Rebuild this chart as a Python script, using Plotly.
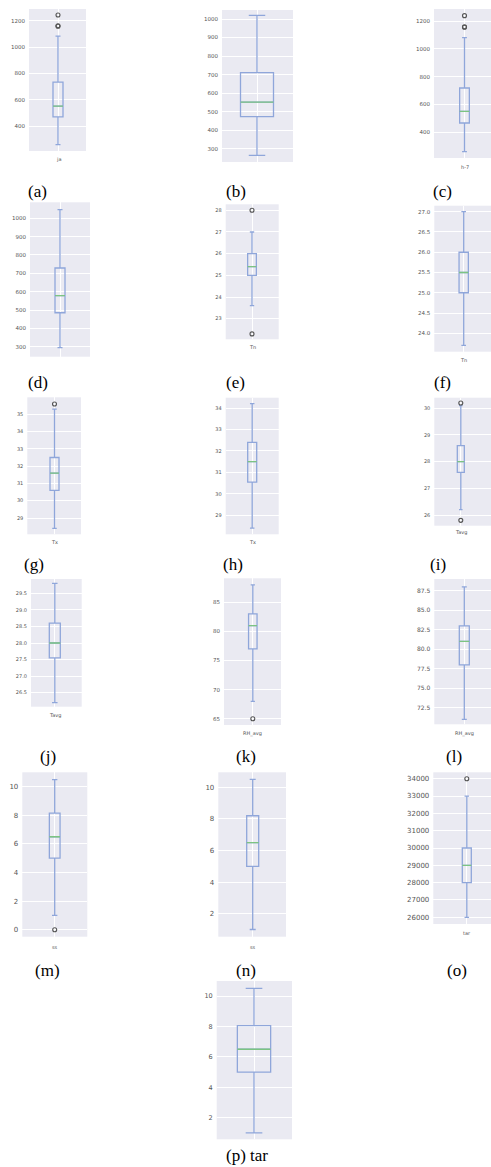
import plotly.graph_objects as go

W, H = 491, 1167

# ---------------- data ----------------
panel_ids = ["a", "b", "c", "d", "e", "f", "g", "h", "i", "j", "k", "l", "m", "n", "o", "p"]
var_names = ["ja", "", "h-7", "", "Tn", "Tn", "Tx", "Tx", "Tavg", "Tavg",
             "RH_avg", "RH_avg", "ss", "ss", "tar", ""]
lower_whisker = [261, 264, 258, 295, 23.6, 23.7, 28.4, 28.4, 26.2, 26.2,
                 68, 71, 1.0, 1.0, 26000, 1.0]
q1_vals = [472, 473, 465, 485, 25.0, 25.0, 30.6, 30.55, 27.6, 27.55,
           77, 78, 5.0, 5.0, 28000, 5.0]
median_vals = [553, 551, 549, 578, 25.4, 25.5, 31.6, 31.5, 28.0, 28.0,
               81, 81, 6.5, 6.5, 29000, 6.5]
q3_vals = [735, 711, 718, 729, 26.0, 26.0, 32.5, 32.4, 28.6, 28.6,
           83, 83, 8.15, 8.2, 30000, 8.05]
upper_whisker = [1083, 1020, 1082, 1047, 27.0, 27.0, 35.3, 34.2, 30.1, 29.8,
                 88, 88, 10.5, 10.5, 33000, 10.5]
outlier_vals = [[1158, 1162, 1243], [], [1157, 1160, 1241], [], [22.3, 28.0], [],
                [35.6], [], [25.8, 30.2], [], [65], [], [0], [], [34000], []]
captions = ["(a)", "(b)", "(c)", "(d)", "(e)", "(f)", "(g)", "(h)", "(i)",
            "(j)", "(k)", "(l)", "(m)", "(n)", "(o)", "(p) tar"]

# ---------------- layout (pixel geometry of each panel) ----------------
# x0, x1, y0, y1 (panel), box centre x, box width px
geom = [
    (29, 86, 9, 151, 58, 10),
    (222, 293, 10, 162, 257, 33),
    (434, 491, 9, 158, 464.5, 9.7),
    (30, 90, 202.3, 356.7, 60, 10),
    (225.7, 278.7, 204.3, 339.3, 252, 8.7),
    (434.3, 491, 205.7, 351.7, 463.7, 9.3),
    (27.3, 81, 397.3, 534.3, 54.5, 9),
    (225.7, 278.7, 397.7, 534.3, 252.2, 9),
    (434.3, 491, 397.7, 525.7, 460.8, 7),
    (31, 81.7, 579, 706.7, 54.8, 11),
    (224, 281, 578.3, 725, 252.8, 8.5),
    (434.3, 491, 579, 724.3, 464.3, 10),
    (22.3, 87.3, 772.3, 936.7, 54.7, 10.7),
    (218.3, 286, 772.3, 936.7, 252.7, 12),
    (433.3, 491, 772.3, 924, 466.8, 9),
    (216.7, 292, 981, 1139.3, 254, 33.3),
]
# axis calibration: (value1, pixel1, value2, pixel2)
calib = [
    (1200, 20.7, 400, 126.3),
    (1000, 19, 300, 148.7),
    (1200, 21.3, 400, 132),
    (1000, 218.3, 300, 346.7),
    (28, 210.3, 23, 318.7),
    (27, 211.7, 24, 333.3),
    (35, 414.3, 29, 518),
    (34, 408, 29, 515.3),
    (30, 408.3, 26, 515),
    (29.5, 593.3, 26.5, 692.7),
    (85, 602.3, 65, 718.8),
    (87.5, 590.7, 72.5, 707.7),
    (10, 786.7, 0, 929.7),
    (10, 787.3, 2, 913.7),
    (34000, 778.7, 26000, 917.3),
    (10, 996, 2, 1117.7),
]
dticks = [200, 100, 200, 100, 1, 0.5, 1, 1, 1, 0.5, 5, 2.5, 2, 2, 1000, 2]
tickfmts = ["d", "d", "d", "d", "d", ".1f", "d", "d", "d", ".1f", "d", ".1f", "d", "d", "d", "d"]
tick_sizes = [5.5, 5.5, 5.5, 5.5, 5, 5.5, 5, 5, 5, 5, 5.5, 6, 7, 7, 7, 6.5]
label_y = [159, None, 166.7, None, 347.3, 360, 542.3, 541.7, 532.7, 715,
           733.3, 733.3, 946.7, 946.7, 933.3, None]
caption_pos = [(37, 192), (236, 192), (442.5, 192),
               (37.5, 382.7), (235, 382.7), (442, 382.7),
               (34, 565), (232.5, 565), (437.5, 565),
               (48, 756.7), (246, 756.7), (453.5, 756.7),
               (47.7, 970), (246, 970), (456.7, 970),
               (246.7, 1155.7)]

BOX_COLOR = "#8fa6da"
MED_COLOR = "#7cc482"
BG = "#eaeaf2"

fig = go.Figure()
annotations = []
layout_axes = {}

for i in range(16):
    k = i + 1
    xs = "" if k == 1 else str(k)
    x0, x1, y0, y1, cx, bw = geom[i]
    v1, p1, v2, p2 = calib[i]
    slope = (v1 - v2) / (p2 - p1)
    ytop = v1 + (p1 - y0) * slope
    ybot = v1 - (y1 - p1) * slope

    fig.add_trace(go.Box(
        x=[0], q1=[q1_vals[i]], median=[median_vals[i]], q3=[q3_vals[i]],
        lowerfence=[lower_whisker[i]], upperfence=[upper_whisker[i]],
        width=bw, whiskerwidth=0.5, boxpoints=False,
        line=dict(color=BOX_COLOR, width=1.3), fillcolor="rgba(0,0,0,0)",
        xaxis="x" + xs, yaxis="y" + xs, showlegend=False, hoverinfo="skip"))
    # median line drawn as a degenerate box in green
    fig.add_trace(go.Box(
        x=[0], q1=[median_vals[i]], median=[median_vals[i]], q3=[median_vals[i]],
        lowerfence=[median_vals[i]], upperfence=[median_vals[i]],
        width=bw, whiskerwidth=0, boxpoints=False,
        line=dict(color=MED_COLOR, width=1.3), fillcolor="rgba(0,0,0,0)",
        xaxis="x" + xs, yaxis="y" + xs, showlegend=False, hoverinfo="skip"))
    if outlier_vals[i]:
        fig.add_trace(go.Scatter(
            x=[0] * len(outlier_vals[i]), y=outlier_vals[i], mode="markers",
            marker=dict(symbol="circle-open", size=4, color="#555555",
                        line=dict(width=1.1)),
            xaxis="x" + xs, yaxis="y" + xs, showlegend=False, hoverinfo="skip"))

    layout_axes["xaxis" + xs] = dict(
        domain=[x0 / W, x1 / W], anchor="y" + xs,
        range=[x0 - cx, x1 - cx], tickvals=[0], showticklabels=False,
        showgrid=True, gridcolor="white", gridwidth=1, zeroline=False,
        showline=False, ticks="", fixedrange=True)
    layout_axes["yaxis" + xs] = dict(
        domain=[1 - y1 / H, 1 - y0 / H], anchor="x" + xs,
        range=[ybot, ytop], dtick=dticks[i], tick0=0, tickformat=tickfmts[i],
        showgrid=True, gridcolor="white", gridwidth=1, zeroline=False,
        showline=False, ticks="", ticklabelstandoff=3,
        tickfont=dict(size=tick_sizes[i], color="#555555", family="DejaVu Sans"),
        fixedrange=True)

    if var_names[i] and label_y[i] is not None:
        annotations.append(dict(
            text=var_names[i], x=cx / W, y=1 - label_y[i] / H,
            xref="paper", yref="paper", xanchor="center", yanchor="middle",
            showarrow=False, font=dict(size=5, color="#555555", family="DejaVu Sans")))
    cxp, cyp = caption_pos[i]
    annotations.append(dict(
        text=captions[i], x=cxp / W, y=1 - cyp / H,
        xref="paper", yref="paper", xanchor="center", yanchor="middle",
        showarrow=False, font=dict(size=17, color="black", family="Liberation Serif")))

fig.update_layout(
    width=W, height=H, margin=dict(l=0, r=0, t=0, b=0),
    paper_bgcolor="white", plot_bgcolor=BG, boxmode="overlay",
    annotations=annotations, **layout_axes)

fig.write_html("out.html", include_plotlyjs=True, config={"displayModeBar": False})
